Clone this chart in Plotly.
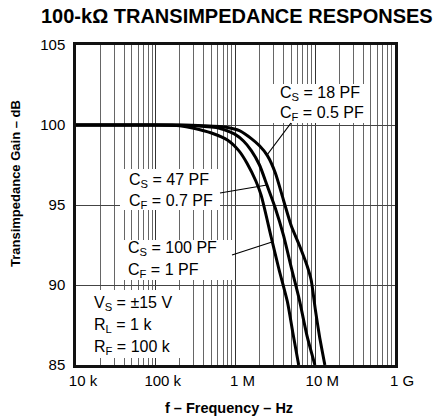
import plotly.graph_objects as go

# Closed-loop gain curves, frequency in Hz, gain in dB
freq_cs100 = [1e4, 1e5, 2e5, 3e5, 5e5, 8e5, 1.1e6, 1.4e6, 1.8e6, 2.1e6, 2.8e6, 3.5e6, 4.5e6, 5.2e6, 6.2e6]
gain_cs100 = [100, 100, 99.95, 99.8, 99.5, 99.05, 98.4, 97.6, 96.5, 95.6, 93.0, 91.0, 88.9, 87.1, 85.0]

freq_cs47 = [1e4, 1.6e5, 3.2e5, 6.3e5, 1.0e6, 1.26e6, 1.58e6, 2.0e6, 2.5e6, 3.16e6, 4.0e6, 5.0e6, 6.3e6, 7.9e6, 9.9e6]
gain_cs47 = [100, 100, 99.95, 99.8, 99.4, 99.0, 98.4, 97.5, 96.2, 94.8, 93.1, 91.1, 89.1, 86.8, 85.0]

freq_cs18 = [1e4, 2e5, 4e5, 7.9e5, 1.12e6, 1.58e6, 2.0e6, 2.5e6, 3.16e6, 4.0e6, 5.0e6, 6.3e6, 7.9e6, 8.9e6, 1.0e7, 1.13e7, 1.32e7]
gain_cs18 = [100, 100, 99.95, 99.85, 99.65, 99.15, 98.7, 98.1, 97.0, 95.3, 93.7, 92.5, 91.2, 90.3, 88.5, 86.8, 85.0]

x_tickvals = [1e4, 1e5, 1e6, 1e7, 1e8]
x_ticktext = ["10 k", "100 k", "1 M", "10 M", "1 G"]
y_tickvals = [85, 90, 95, 100, 105]

FONT = "Arial, Liberation Sans, Helvetica, sans-serif"
W, H = 446, 416
L, R, T, B = 76, 51, 45, 51
PW, PH = W - L - R, H - T - B


def px(x):
    return (x - L) / PW


def py(y):
    return (H - B - y) / PH


fig = go.Figure()
for f, g in [(freq_cs100, gain_cs100), (freq_cs47, gain_cs47), (freq_cs18, gain_cs18)]:
    fig.add_trace(go.Scatter(x=f, y=g, mode="lines",
                             line=dict(color="black", width=3, shape="spline", smoothing=0.6),
                             showlegend=False, hoverinfo="skip"))

# white panels behind the condition labels
boxes = [(273, 84, 366, 123), (120, 169, 220, 210), (120, 240, 232, 280), (77, 290, 186, 358)]
shapes = []
for x0, y0, x1, y1 in boxes:
    shapes.append(dict(type="rect", xref="paper", yref="paper",
                       x0=px(x0), x1=px(x1), y0=py(y1), y1=py(y0),
                       fillcolor="white", line=dict(width=0), layer="above"))
# leader lines from labels to curves
leaders = [(291, 123, 267, 155), (220, 193, 267, 185), (232, 255, 272, 242)]
for x0, y0, x1, y1 in leaders:
    shapes.append(dict(type="line", xref="paper", yref="paper",
                       x0=px(x0), x1=px(x1), y0=py(y0), y1=py(y1),
                       line=dict(color="black", width=1.2), layer="above"))

labels = [
    (278, 94, "C<sub>S</sub> = 18 PF"), (278, 113, "C<sub>F</sub> = 0.5 PF"),
    (127, 180, "C<sub>S</sub> = 47 PF"), (127, 201, "C<sub>F</sub> = 0.7 PF"),
    (126, 248, "C<sub>S</sub> = 100 PF"), (126, 270, "C<sub>F</sub> = 1 PF"),
    (92, 303, "V<sub>S</sub> = ±15 V"), (92, 325, "R<sub>L</sub> = 1 k"), (92, 347, "R<sub>F</sub> = 100 k"),
]
annotations = []
for x, y, t in labels:
    annotations.append(dict(text=t, xref="paper", yref="paper", x=px(x), y=py(y),
                            xanchor="left", yanchor="middle", showarrow=False,
                            font=dict(family=FONT, size=16, color="black")))

annotations.append(dict(text="<b>100-kΩ TRANSIMPEDANCE RESPONSES</b>", xref="paper", yref="paper",
                        x=px(237), y=py(16), xanchor="center", yanchor="middle", showarrow=False,
                        font=dict(family=FONT, size=20, color="black")))
annotations.append(dict(text="<b>f – Frequency – Hz</b>", xref="paper", yref="paper",
                        x=px(229), y=py(408), xanchor="center", yanchor="middle", showarrow=False,
                        font=dict(family=FONT, size=14.5, color="black")))
annotations.append(dict(text="<b>Transimpedance Gain – dB</b>", xref="paper", yref="paper",
                        x=px(15), y=py(184), xanchor="center", yanchor="middle", showarrow=False,
                        textangle=-90, font=dict(family=FONT, size=13, color="black")))

fig.update_layout(
    width=W, height=H, margin=dict(l=L, r=R, t=T, b=B),
    paper_bgcolor="white", plot_bgcolor="white",
    shapes=shapes, annotations=annotations,
    xaxis=dict(type="log", range=[4, 8], tickvals=x_tickvals, ticktext=x_ticktext,
               ticks="", showgrid=True, gridcolor="#333", gridwidth=1,
               minor=dict(dtick="D1", showgrid=True, gridcolor="#666", gridwidth=1, ticks=""),
               showline=True, linecolor="#111", linewidth=2.5, mirror=True,
               tickfont=dict(family=FONT, size=15, color="black"), ticklabelshift=7,
               zeroline=False, fixedrange=True),
    yaxis=dict(range=[85, 105], tickvals=y_tickvals, ticks="", showgrid=True,
               gridcolor="#444", gridwidth=1,
               showline=True, linecolor="#111", linewidth=2.5, mirror=True,
               tickfont=dict(family=FONT, size=15, color="black"), ticklabelstandoff=5,
               zeroline=False, fixedrange=True),
)

fig.write_html("out.html")
